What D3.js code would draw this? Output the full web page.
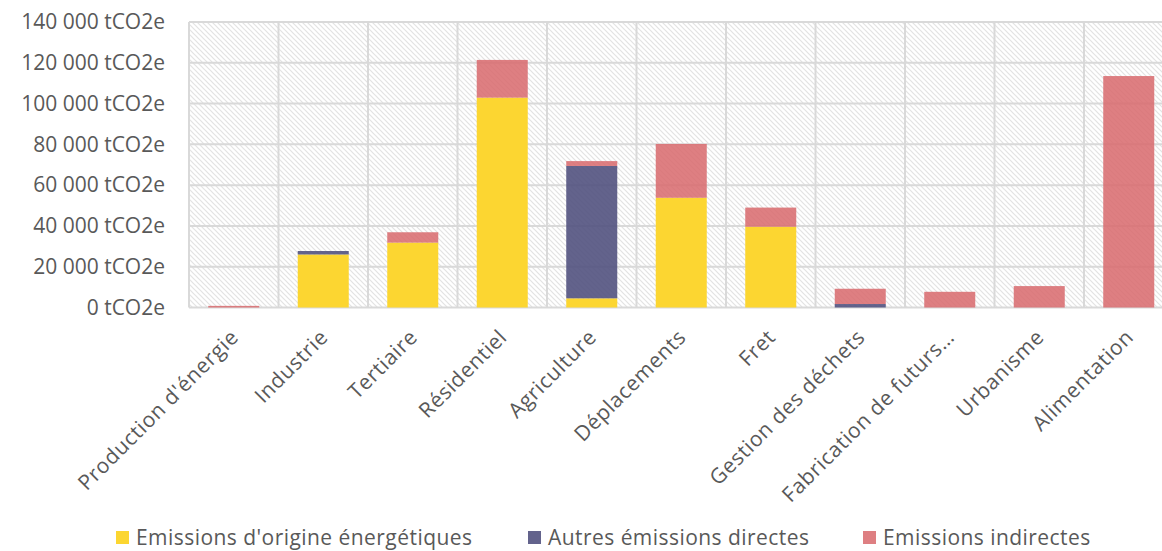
<!DOCTYPE html>
<html>
<head>
<meta charset="utf-8">
<script src="https://cdn.jsdelivr.net/npm/d3@7"></script>
<style>
  html, body { margin: 0; padding: 0; background: #ffffff; }
  svg { display: block; font-family: "Open Sans", "Noto Sans", sans-serif; }
</style>
</head>
<body>
<svg id="chart" width="1162" height="551"></svg>
<script>
// Emissions by sector, stacked by type of emission (tCO2e)
const categories = [
  "Production d'énergie", "Industrie", "Tertiaire", "Résidentiel", "Agriculture",
  "Déplacements", "Fret", "Gestion des déchets", "Fabrication de futurs…",
  "Urbanisme", "Alimentation"
];
const energetiques = [0, 26000, 31800, 102900, 4500, 53800, 39600, 0, 0, 0, 0];
const autresDirectes = [0, 1700, 0, 0, 64900, 0, 0, 1700, 0, 0, 0];
const indirectes = [800, 0, 5100, 18500, 2400, 26400, 9400, 7500, 7700, 10500, 113500];
const seriesNames = ["Emissions d'origine énergétiques", "Autres émissions directes", "Emissions indirectes"];
const seriesColors = ["#fcd631", "#4d4d7c", "#d8686c"];
const seriesOpacity = [1, 0.88, 0.85];
const yTicks = [0, 20000, 40000, 60000, 80000, 100000, 120000, 140000];

const svg = d3.select("#chart");
const margin = { left: 189, top: 22 };
const plotW = 984.5, plotH = 285.5;
const textColor = "#595959";
const gridColor = "#d9d9d9";

const rows = categories.map((c, i) => ({
  cat: c, e: energetiques[i], a: autresDirectes[i], ind: indirectes[i]
}));
const keys = ["e", "a", "ind"];
const stacked = d3.stack().keys(keys)(rows);

const x = d3.scaleBand().domain(categories).range([margin.left, margin.left + plotW])
  .paddingInner(0.43).paddingOuter(0.215);
const y = d3.scaleLinear().domain([0, 140000]).range([margin.top + plotH, margin.top]);

// Hatched plot background
const defs = svg.append("defs");
const pat = defs.append("pattern").attr("id", "hatch").attr("patternUnits", "userSpaceOnUse")
  .attr("width", 5).attr("height", 5);
pat.append("rect").attr("width", 5).attr("height", 5).attr("fill", "#ffffff");
pat.append("path").attr("d", "M-1,-1 L6,6 M-1,4 L1,6 M4,-1 L6,1")
  .attr("stroke", "#e3e3e3").attr("stroke-width", 1.2);

svg.append("rect").attr("x", margin.left).attr("y", margin.top)
  .attr("width", plotW).attr("height", plotH).attr("fill", "url(#hatch)");

// Horizontal gridlines
svg.append("g").selectAll("line").data(yTicks).join("line")
  .attr("x1", margin.left).attr("x2", margin.left + plotW)
  .attr("y1", d => y(d)).attr("y2", d => y(d))
  .attr("stroke", gridColor).attr("stroke-width", 2);

// Vertical gridlines at category boundaries
const step = x.step();
const bounds = d3.range(categories.length + 1).map(i => margin.left + i * step);
svg.append("g").selectAll("line").data(bounds).join("line")
  .attr("x1", d => d).attr("x2", d => d)
  .attr("y1", margin.top).attr("y2", margin.top + plotH)
  .attr("stroke", gridColor).attr("stroke-width", 2);

// Stacked bars
svg.append("g").selectAll("g").data(stacked).join("g")
  .attr("fill", (d, i) => seriesColors[i])
  .attr("fill-opacity", (d, i) => seriesOpacity[i])
  .selectAll("rect").data(d => d.filter(p => p[1] > p[0])).join("rect")
  .attr("x", d => x(d.data.cat)).attr("width", x.bandwidth())
  .attr("y", d => y(d[1])).attr("height", d => y(d[0]) - y(d[1]));

// Y axis labels
const locale = d3.formatLocale({ decimal: ",", thousands: "\u00a0", grouping: [3], currency: ["", " €"] });
const fmt = locale.format(",");
const yAxis = d3.axisLeft(y).tickValues(yTicks).tickSize(0).tickPadding(0)
  .tickFormat(d => fmt(d) + " tCO2e");
const gy = svg.append("g").attr("transform", `translate(165,0)`).call(yAxis);
gy.select(".domain").remove();
gy.selectAll("text").attr("fill", textColor).style("font-size", "21px")
  .style("font-family", "'Open Sans', sans-serif");

// X axis labels, rotated
const xAxis = d3.axisBottom(x).tickSize(0).tickPadding(0);
const gx = svg.append("g").attr("transform", `translate(0,${margin.top + plotH})`).call(xAxis);
gx.select(".domain").remove();
gx.selectAll("text")
  .attr("fill", textColor).style("font-size", "21px")
  .style("font-family", "'Open Sans', sans-serif")
  .style("letter-spacing", "0.6px")
  .attr("text-anchor", "end")
  .attr("y", 0).attr("dy", 0)
  .attr("transform", "translate(6,31) rotate(-45)");

// Legend
const legendX = [116, 528, 863];
const lg = svg.append("g").selectAll("g").data(seriesNames).join("g")
  .attr("transform", (d, i) => `translate(${legendX[i]},0)`);
lg.append("rect").attr("x", 0).attr("y", 531).attr("width", 13).attr("height", 13)
  .attr("fill", (d, i) => seriesColors[i]).attr("fill-opacity", (d, i) => seriesOpacity[i]);
lg.append("text").attr("x", 20).attr("y", 545).text(d => d)
  .attr("fill", textColor).style("font-size", "21px").style("letter-spacing", "0.45px");
</script>
</body>
</html>
